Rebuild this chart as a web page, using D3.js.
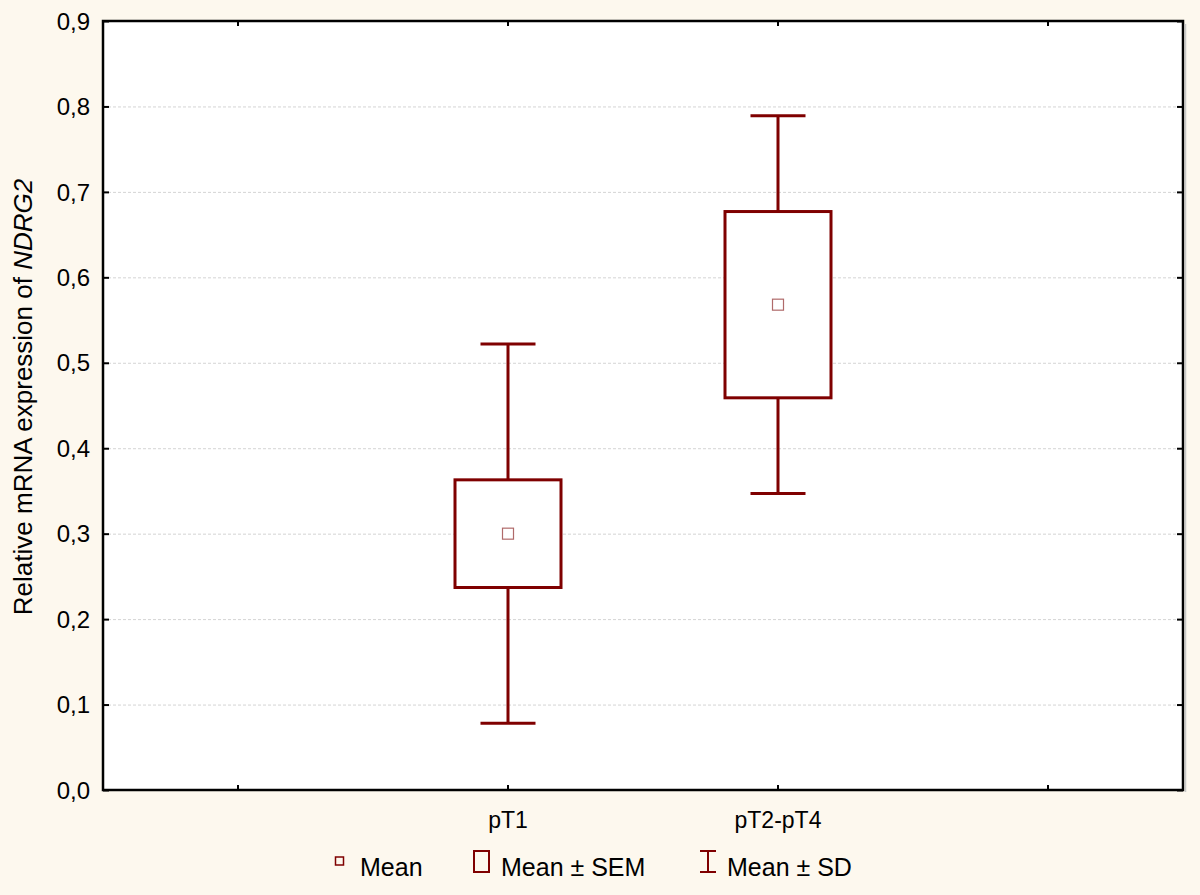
<!DOCTYPE html>
<html lang="en">
<head>
<meta charset="UTF-8">
<title>NDRG2 expression</title>
<script src="https://d3js.org/d3.v7.min.js"></script>
<style>
  body { margin: 0; background: #fdf8ee; }
  svg { display: block; font-family: "Liberation Sans", Arial, sans-serif; }
</style>
</head>
<body>
<script>
// data
var categories = ["", "pT1", "pT2-pT4", ""];
var groups = ["pT1", "pT2-pT4"];
var means = [0.300, 0.568];
var sems = [0.063, 0.109];
var sds = [0.222, 0.221];
var yTicks = [0, 0.1, 0.2, 0.3, 0.4, 0.5, 0.6, 0.7, 0.8, 0.9];

var width = 1200, height = 895;
var margin = {top: 21, right: 17, bottom: 105, left: 103};
var dark = "#7f0000";

var svg = d3.select("body").append("svg")
  .attr("width", width).attr("height", height);

svg.append("rect").attr("width", width).attr("height", height).attr("fill", "#fdf8ee");

var x = d3.scaleBand().domain(d3.range(categories.length))
  .range([margin.left, width - margin.right]);
var y = d3.scaleLinear().domain([0, 0.9])
  .range([height - margin.bottom, margin.top]);

var fmt = function(d) { return d3.format(".1f")(d).replace(".", ","); };

// plot area
svg.append("rect")
  .attr("x", x.range()[0]).attr("y", y(0.9))
  .attr("width", x.range()[1] - x.range()[0])
  .attr("height", y(0) - y(0.9))
  .attr("fill", "#fff");

// grid
svg.append("g").selectAll("line")
  .data(yTicks.slice(1, -1))
  .join("line")
  .attr("x1", x.range()[0]).attr("x2", x.range()[1])
  .attr("y1", function(d) { return y(d) + 0.5; })
  .attr("y2", function(d) { return y(d) + 0.5; })
  .attr("stroke", "#d4d4d4").attr("stroke-width", 1)
  .attr("stroke-dasharray", "3,2");

// axes (ticks pointing into the plot)
var yLeft = svg.append("g").attr("transform", "translate(" + x.range()[0] + ",0)")
  .call(d3.axisRight(y).tickValues(yTicks).tickSize(6).tickFormat(""));
var yRight = svg.append("g").attr("transform", "translate(" + x.range()[1] + ",0)")
  .call(d3.axisLeft(y).tickValues(yTicks).tickSize(6).tickFormat(""));
[yLeft, yRight].forEach(function(g) {
  g.select(".domain").remove();
  g.selectAll("line").attr("stroke", "#000").attr("stroke-width", 2);
});

var tickX = function(i) { return x(i) + x.bandwidth() / 2; };
svg.append("g").selectAll("line")
  .data(d3.range(categories.length).concat(d3.range(categories.length)))
  .join("line")
  .attr("x1", function(d) { return tickX(d); })
  .attr("x2", function(d) { return tickX(d); })
  .attr("y1", function(d, i) { return i < categories.length ? y(0) : y(0.9); })
  .attr("y2", function(d, i) { return i < categories.length ? y(0) - 5 : y(0.9) + 5; })
  .attr("stroke", "#000").attr("stroke-width", 2);

// frame
svg.append("rect")
  .attr("x", x.range()[0]).attr("y", y(0.9))
  .attr("width", x.range()[1] - x.range()[0])
  .attr("height", y(0) - y(0.9))
  .attr("fill", "none").attr("stroke", "#000").attr("stroke-width", 2.5);
svg.append("line")
  .attr("x1", x.range()[1] + 2.5).attr("x2", x.range()[1] + 2.5)
  .attr("y1", y(0.9) + 3).attr("y2", y(0) + 2)
  .attr("stroke", "#c8c8c8").attr("stroke-width", 1.5);

// tick labels
svg.append("g").selectAll("text")
  .data(yTicks)
  .join("text")
  .attr("x", x.range()[0] - 13)
  .attr("y", function(d) { return y(d); })
  .attr("dy", "0.36em")
  .attr("text-anchor", "end")
  .attr("font-size", 24)
  .attr("fill", "#000")
  .text(fmt);

svg.append("g").selectAll("text")
  .data(categories)
  .join("text")
  .attr("x", function(d, i) { return tickX(i); })
  .attr("y", y(0) + 38)
  .attr("text-anchor", "middle")
  .attr("font-size", 23)
  .attr("fill", "#000")
  .text(function(d) { return d; });

// y title
var yt = svg.append("text")
  .attr("transform", "translate(32,397) rotate(-90)")
  .attr("text-anchor", "middle")
  .attr("font-size", 26)
  .attr("fill", "#000");
yt.append("tspan").text("Relative mRNA expression of ");
yt.append("tspan").attr("font-style", "italic").text("NDRG2");

// boxes and whiskers
var boxW = 106, capW = 55, markS = 11;
var g = svg.append("g").selectAll("g")
  .data(groups)
  .join("g")
  .attr("transform", function(d) { return "translate(" + tickX(categories.indexOf(d)) + ",0)"; });

g.append("line")
  .attr("x1", 0).attr("x2", 0)
  .attr("y1", function(d, i) { return y(means[i] + sds[i]); })
  .attr("y2", function(d, i) { return y(means[i] - sds[i]); })
  .attr("stroke", dark).attr("stroke-width", 3);
[1, -1].forEach(function(s) {
  g.append("line")
    .attr("x1", -capW / 2).attr("x2", capW / 2)
    .attr("y1", function(d, i) { return y(means[i] + s * sds[i]); })
    .attr("y2", function(d, i) { return y(means[i] + s * sds[i]); })
    .attr("stroke", dark).attr("stroke-width", 3);
});
g.append("rect")
  .attr("x", -boxW / 2)
  .attr("y", function(d, i) { return y(means[i] + sems[i]); })
  .attr("width", boxW)
  .attr("height", function(d, i) { return y(means[i] - sems[i]) - y(means[i] + sems[i]); })
  .attr("fill", "#fff").attr("stroke", dark).attr("stroke-width", 3);
g.append("rect")
  .attr("x", -markS / 2)
  .attr("y", function(d, i) { return y(means[i]) - markS / 2; })
  .attr("width", markS).attr("height", markS)
  .attr("fill", "none").attr("stroke", "#b06a6a").attr("stroke-width", 1.2);

// legend
var ly = 876;
var legend = svg.append("g").attr("font-size", 25).attr("fill", "#000");
legend.append("rect").attr("x", 335.5).attr("y", ly - 19).attr("width", 8).attr("height", 8)
  .attr("fill", "none").attr("stroke", dark).attr("stroke-width", 1.5);
legend.append("text").attr("x", 360).attr("y", ly).text("Mean");
legend.append("rect").attr("x", 474).attr("y", ly - 25).attr("width", 15).attr("height", 21)
  .attr("fill", "none").attr("stroke", dark).attr("stroke-width", 2);
legend.append("text").attr("x", 501).attr("y", ly).text("Mean ± SEM");
legend.append("path").attr("d", "M700," + (ly - 25) + "H716M708," + (ly - 25) + "V" + (ly - 4) + "M700," + (ly - 4) + "H716")
  .attr("fill", "none").attr("stroke", dark).attr("stroke-width", 2);
legend.append("text").attr("x", 727).attr("y", ly).text("Mean ± SD");
</script>
</body>
</html>
